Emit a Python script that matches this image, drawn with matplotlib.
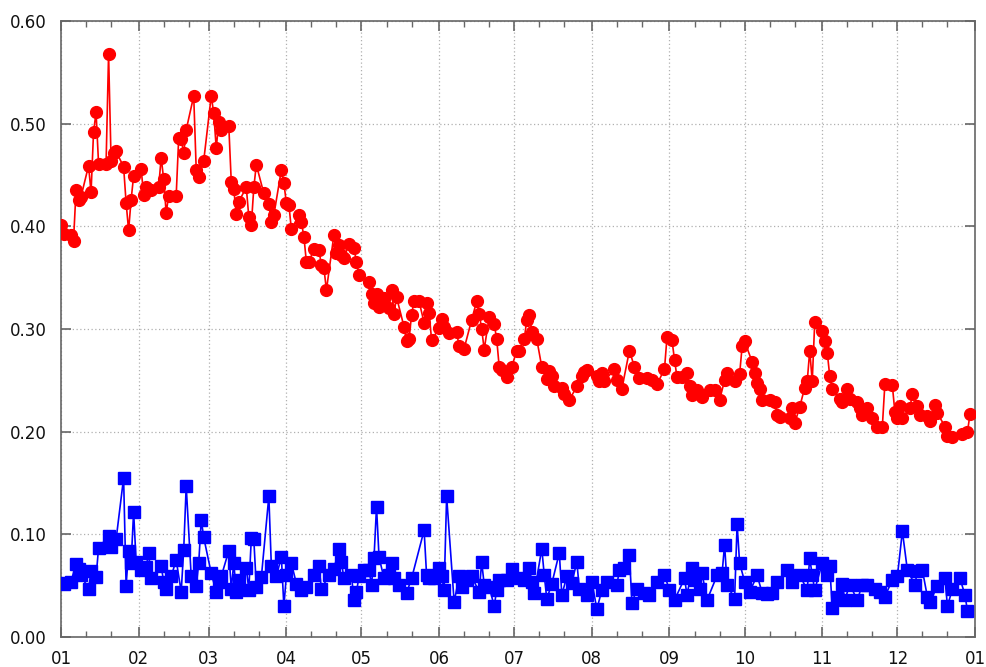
#!/usr/bin/env python3
"""Daily red/blue series over one calendar year, drawn as marker lines."""

from __future__ import annotations

import matplotlib
matplotlib.use("Agg")
import matplotlib.dates as mdates
import matplotlib.pyplot as plt
import numpy as np
import pandas as pd
from matplotlib.ticker import FormatStrFormatter, MultipleLocator

YEAR_START = "2013-01-01"

red_day = [
    0, 1, 4, 5, 6, 7, 8, 11, 12, 13, 14, 15, 18, 19, 20, 21, 22, 25, 26, 27, 28, 29,
    32, 33, 34, 36, 39, 40, 41, 42, 43, 46, 47, 48, 49, 50, 53, 54, 55, 57,
    60, 61, 62, 63, 64, 67, 68, 69, 70, 71, 74, 75, 76, 77, 78, 81, 83, 84, 85, 88, 89,
    90, 91, 92, 95, 96, 97, 98, 99, 101, 103, 104, 105, 106, 109, 110, 111, 112, 113,
    115, 117, 118, 119, 123, 124, 125, 126, 127, 129, 131, 132, 133, 134, 137, 138, 139,
    140, 141, 143, 145, 146, 147, 148, 151, 152, 153, 155, 158, 159, 161, 164, 166, 167,
    168, 169, 171, 173, 174, 175, 176, 178, 180, 182, 183, 185, 186, 187, 188, 190, 192,
    194, 195, 196, 197, 200, 201, 203, 206, 208, 209, 210, 214, 215, 216, 217, 221, 222,
    224, 227, 229, 231, 234, 236, 238, 241, 242, 244, 245, 246, 248, 250, 251, 252, 254,
    256, 259, 261, 263, 265, 266, 269, 271, 272, 273, 276, 277, 278, 279, 280, 283, 285,
    286, 287, 291, 292, 293, 295, 297, 298, 299, 300, 301, 304, 305, 306, 307, 308, 311,
    312, 314, 315, 318, 319, 320, 322, 324, 326, 328, 329, 332, 333, 334, 335, 336, 339,
    340, 342, 343, 346, 347, 349, 350, 353, 354, 356, 360, 362, 363,
]
red_value = [
    .401, .393, .392, .386, .435, .426, .429, .459, .433, .492, .511, .461, .461, .568, .464, .471, .473, .458, .423, .396, .426, .449,
    .456, .431, .438, .435, .438, .467, .446, .413, .430, .430, .486, .485, .471, .494, .527, .455, .448, .464,
    .527, .510, .476, .502, .494, .498, .443, .436, .412, .424, .438, .409, .401, .438, .460, .432, .422, .404, .411, .455, .442,
    .423, .421, .397, .411, .404, .390, .365, .365, .378, .377, .362, .359, .338, .392, .374, .382, .372, .369,
    .383, .379, .365, .353, .346, .334, .325, .334, .321, .330, .320, .338, .315, .331, .302, .288, .290,
    .314, .327, .327, .306, .325, .316, .289, .301, .310, .302, .296, .297, .283, .281, .309, .327, .315,
    .300, .280, .312, .305, .290, .263, .260, .253, .263, .279, .279, .290, .309, .314, .297, .290, .263,
    .251, .259, .254, .244, .243, .237, .231, .244, .254, .258, .260, .254, .249, .257, .249, .261, .250,
    .242, .279, .263, .252, .252, .250, .246, .261, .292, .289, .270, .253, .253, .257, .244, .236, .241,
    .234, .241, .241, .231, .250, .257, .249, .256, .283, .288, .268, .257, .247, .242, .231, .231, .229,
    .216, .214, .213, .223, .208, .224, .243, .249, .279, .249, .307, .298, .288, .277, .254, .242, .232,
    .229, .242, .232, .229, .223, .216, .223, .213, .205, .205, .246, .245, .219, .213, .225, .213, .223,
    .237, .225, .216, .215, .210, .226, .218, .205, .196, .195, .198, .200, .217,
]

blue_day = [
    0, 1, 4, 6, 7, 8, 11, 12, 14, 15, 19, 20, 22, 25, 26, 27, 28, 29, 30, 32, 34, 35, 36,
    40, 41, 42, 44, 46, 48, 49, 50, 52, 54, 55, 56, 57, 60, 62, 63, 64, 67, 68, 69, 70, 71,
    74, 75, 76, 77, 78, 80, 83, 84, 86, 88, 89, 90, 92, 94, 96, 98, 101, 103, 104, 107, 109,
    111, 112, 113, 116, 117, 118, 119, 121, 123, 124, 125, 126, 127, 129, 131, 132, 133, 135,
    138, 140, 145, 146, 147, 149, 151, 152, 153, 154, 157, 159, 160, 162, 164, 167, 168, 169,
    171, 173, 174, 175, 178, 180, 182, 185, 187, 188, 189, 192, 193, 194, 196, 199, 200, 202,
    204, 206, 207, 210, 212, 214, 216, 218, 222, 223, 225, 227, 228, 230, 233, 235, 238, 241,
    243, 245, 249, 250, 252, 253, 255, 256, 258, 262, 264, 265, 266, 269, 270, 271, 273, 275,
    278, 280, 282, 284, 286, 290, 292, 295, 298, 299, 300, 301, 304, 306, 307, 308, 310, 312,
    313, 315, 318, 320, 322, 325, 327, 329, 332, 334, 336, 338, 341, 342, 344, 346, 347, 350,
    353, 354, 356, 359, 361, 362,
]
blue_value = [
    .053, .052, .054, .071, .066, .060, .047, .064, .058, .087, .098, .088, .095, .155, .050, .084, .072, .122, .073, .065, .068, .082, .057,
    .069, .054, .047, .059, .075, .044, .085, .147, .059, .050, .072, .114, .097, .062, .044, .054, .059, .084, .047, .072, .044, .056,
    .067, .046, .096, .095, .049, .058, .137, .069, .059, .078, .030, .060, .072, .052, .046, .049, .060, .069, .047, .060, .066,
    .086, .073, .057, .060, .036, .044, .059, .065, .065, .051, .077, .127, .078, .057, .060, .072, .057, .051,
    .043, .057, .104, .060, .057, .057, .067, .059, .046, .137, .034, .059, .049, .056, .059, .044, .073, .051,
    .049, .030, .046, .056, .056, .066, .057, .056, .067, .054, .043, .086, .060, .037, .052, .082, .041, .059,
    .053, .073, .047, .041, .054, .027, .046, .054, .051, .065, .067, .080, .033, .047, .043, .041, .054, .060,
    .046, .036, .057, .041, .067, .056, .047, .062, .036, .060, .062, .090, .051, .037, .110, .072, .054, .044,
    .060, .043, .042, .043, .054, .065, .054, .060, .046, .077, .060, .046, .072, .060, .069, .028, .039, .052,
    .036, .051, .036, .051, .051, .047, .044, .039, .056, .059, .103, .065, .051, .064, .065, .039, .034, .050,
    .057, .030, .047, .057, .041, .025,
]


def to_dates(days: list[int]) -> pd.DatetimeIndex:
    return pd.Timestamp(YEAR_START) + pd.to_timedelta(np.asarray(days), unit="D")


def main() -> int:
    figure = plt.figure(figsize=(9.86, 6.67), dpi=100)
    axis = figure.add_axes([61 / 986, 30 / 667, 914 / 986, 616 / 667])

    axis.plot(to_dates(red_day), red_value, color="#ff0000", marker="o", markersize=8.5,
              linewidth=1.2, zorder=3)
    axis.plot(to_dates(blue_day), blue_value, color="#0000ff", marker="s", markersize=8,
              linewidth=1.2, zorder=3)

    start = pd.Timestamp(YEAR_START)
    axis.set_xlim(start, start + pd.DateOffset(years=1))
    axis.set_ylim(0, .6)

    axis.xaxis.set_major_locator(mdates.MonthLocator())
    axis.xaxis.set_major_formatter(mdates.DateFormatter("%m"))
    axis.xaxis.set_minor_locator(mdates.DayLocator(bymonthday=[11, 21]))
    axis.yaxis.set_major_locator(MultipleLocator(.1))
    axis.yaxis.set_major_formatter(FormatStrFormatter("%.2f"))

    frame = "#666666"
    for spine in axis.spines.values():
        spine.set_color(frame)
        spine.set_linewidth(1.2)
    axis.tick_params(which="both", direction="in", top=True, right=True, color=frame,
                     labelsize=12, labelcolor="#111111")
    axis.tick_params(which="major", length=7, width=1.2)
    axis.tick_params(which="minor", length=4, width=1.0)
    axis.tick_params(axis="x", which="major", pad=9)
    axis.tick_params(axis="y", which="major", pad=10)
    axis.grid(True, which="major", color="#b0b0b0", linestyle=(0, (1, 2)), linewidth=.9)

    figure.savefig("out.png", dpi=100)
    plt.close(figure)
    return 0


if __name__ == "__main__":
    raise SystemExit(main())
